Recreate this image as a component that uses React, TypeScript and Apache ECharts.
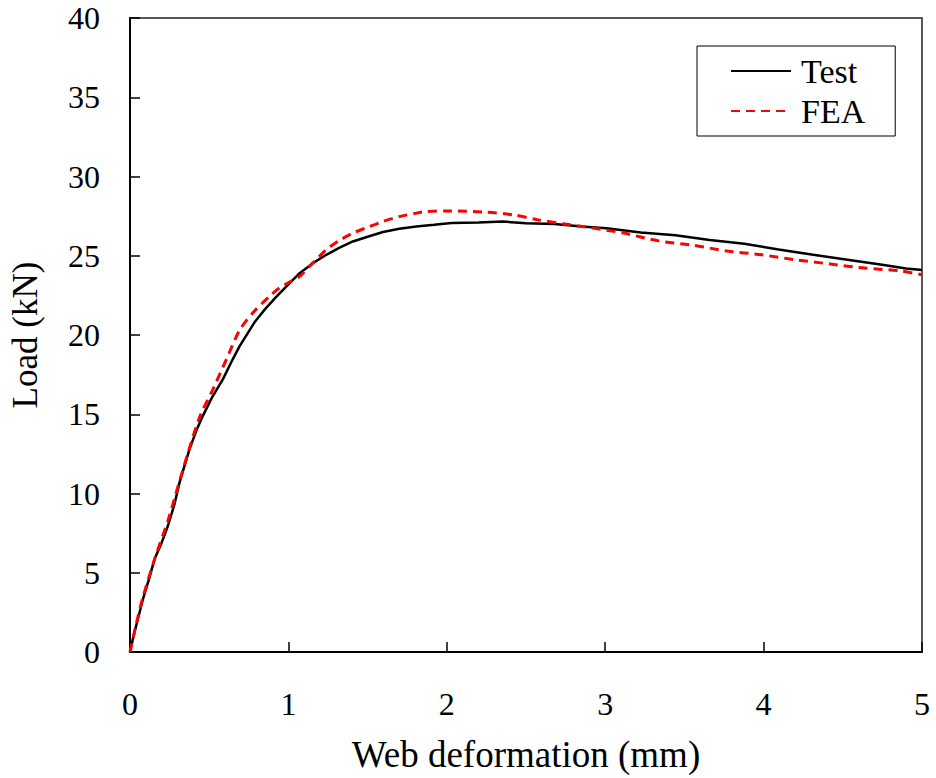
import React, { useEffect, useRef } from "react";
import * as echarts from "echarts";

const testX = [0, 0.02, 0.04, 0.081, 0.12, 0.155, 0.2, 0.239, 0.28, 0.313, 0.376, 0.42, 0.46, 0.52, 0.586, 0.64, 0.692, 0.786, 0.85, 0.923, 1.0, 1.071, 1.15, 1.239, 1.32, 1.407, 1.5, 1.597, 1.7, 1.808, 1.92, 2.03, 2.2, 2.355, 2.5, 2.68, 2.85, 3.008, 3.225, 3.443, 3.66, 3.878, 4.095, 4.313, 4.53, 4.748, 4.9, 5.0];
const testY = [0, 0.9, 1.7, 3.3, 4.6, 5.86, 6.9, 7.95, 9.3, 10.7, 12.8, 14.0, 14.9, 16.1, 17.2, 18.3, 19.3, 20.8, 21.6, 22.4, 23.2, 23.9, 24.5, 25.06, 25.5, 25.9, 26.2, 26.5, 26.7, 26.85, 26.95, 27.06, 27.1, 27.16, 27.05, 27.0, 26.85, 26.74, 26.47, 26.3, 26.0, 25.76, 25.4, 25.06, 24.75, 24.43, 24.2, 24.1];

const feaX = [0, 0.04, 0.08, 0.16, 0.24, 0.334, 0.439, 0.523, 0.608, 0.692, 0.776, 0.881, 0.944, 1.0, 1.071, 1.15, 1.239, 1.32, 1.407, 1.5, 1.597, 1.7, 1.808, 1.865, 2.03, 2.246, 2.42, 2.572, 2.747, 2.9, 3.116, 3.334, 3.55, 3.77, 3.987, 4.2, 4.42, 4.64, 4.857, 5.0];
const feaY = [0, 1.8, 3.4, 6.0, 8.3, 11.5, 14.8, 16.56, 18.45, 20.3, 21.4, 22.44, 22.97, 23.3, 23.7, 24.5, 25.38, 25.95, 26.43, 26.8, 27.16, 27.47, 27.69, 27.79, 27.83, 27.75, 27.58, 27.27, 27.0, 26.78, 26.43, 25.94, 25.67, 25.3, 25.06, 24.75, 24.48, 24.22, 24.05, 23.8];

const xTicks = [0, 1, 2, 3, 4, 5];
const yTicks = [0, 5, 10, 15, 20, 25, 30, 35, 40];

const FONT = "'Liberation Serif', 'Times New Roman', serif";

export default function App() {
  const ref = useRef<HTMLDivElement>(null);
  useEffect(() => {
    if (!ref.current) return;
    const chart = echarts.init(ref.current, undefined, { renderer: "svg" });
    chart.setOption({
      animation: false,
      backgroundColor: "#fff",
      grid: {
        left: 130,
        top: 18,
        right: 14,
        bottom: 125,
        show: true,
        borderColor: "#222",
        borderWidth: 1.5,
      },
      legend: {
        orient: "vertical",
        left: 697,
        top: 46,
        padding: [8, 30, 8, 33],
        itemGap: 6,
        itemWidth: 60,
        itemHeight: 14,
        borderColor: "#000",
        borderWidth: 1,
        backgroundColor: "#fff",
        itemStyle: { opacity: 0 },
        textStyle: { fontFamily: FONT, fontSize: 34, color: "#000", lineHeight: 33, padding: [0, 0, 0, 5] },
        data: ["Test", "FEA"],
      },
      xAxis: {
        type: "value",
        min: xTicks[0],
        max: xTicks[xTicks.length - 1],
        interval: 1,
        name: "Web deformation (mm)",
        nameLocation: "middle",
        nameGap: 84,
        nameTextStyle: { fontFamily: FONT, fontSize: 37, color: "#000" },
        axisLine: { lineStyle: { color: "#000", width: 2 } },
        axisTick: { inside: true, length: 10, lineStyle: { color: "#000", width: 1.5 } },
        axisLabel: { fontFamily: FONT, fontSize: 32, color: "#000", margin: 36 },
        splitLine: { show: false },
      },
      yAxis: {
        type: "value",
        min: yTicks[0],
        max: yTicks[yTicks.length - 1],
        interval: 5,
        name: "Load (kN)",
        nameLocation: "middle",
        nameGap: 87,
        nameRotate: 90,
        nameTextStyle: { fontFamily: FONT, fontSize: 35, color: "#000" },
        axisLine: { lineStyle: { color: "#000", width: 2 } },
        axisTick: { inside: true, length: 10, lineStyle: { color: "#000", width: 1.5 } },
        axisLabel: { fontFamily: FONT, fontSize: 32, color: "#000", margin: 30 },
        splitLine: { show: false },
      },
      series: [
        {
          name: "Test",
          type: "line",
          symbol: "none",
          data: testX.map((x, i) => [x, testY[i]]),
          lineStyle: { color: "#000", width: 2.5 },
          itemStyle: { color: "#000" },
          z: 2,
        },
        {
          name: "FEA",
          type: "line",
          symbol: "none",
          smooth: 0.3,
          data: feaX.map((x, i) => [x, feaY[i]]),
          lineStyle: { color: "#ff0000", width: 3, type: [9, 6] },
          itemStyle: { color: "#ff0000" },
          z: 3,
        },
      ],
    });
    return () => chart.dispose();
  }, []);
  return <div ref={ref} style={{ width: 936, height: 778, position: "absolute", left: 0, top: 0 }} />;
}
